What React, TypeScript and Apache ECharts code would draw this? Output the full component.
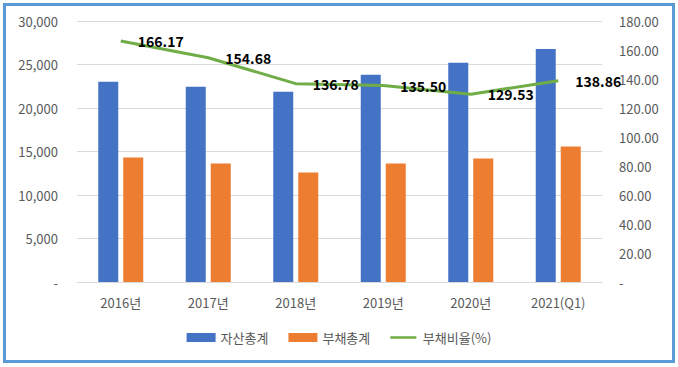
import React, { useEffect, useRef } from "react";
import * as echarts from "echarts";

const categories = ["2016년", "2017년", "2018년", "2019년", "2020년", "2021(Q1)"];
const totalAssets = [23020, 22440, 21870, 23820, 25190, 26790];
const totalLiabilities = [14310, 13630, 12600, 13630, 14200, 15570];
const debtRatio = [166.17, 154.68, 136.78, 135.5, 129.53, 138.86];

const FONT = "'Noto Sans CJK KR', 'Noto Sans', sans-serif";

export default function App() {
  const ref = useRef<HTMLDivElement>(null);
  useEffect(() => {
    document.body.style.margin = "0";
    const chart = echarts.init(ref.current!, undefined, { renderer: "svg" });
    chart.setOption({
      animation: false,
      backgroundColor: "#ffffff",
      textStyle: { fontFamily: FONT },
      graphic: [
        {
          type: "rect",
          shape: { x: 4.5, y: 4.5, width: 669, height: 357 },
          style: { fill: "none", stroke: "#5B9BD5", lineWidth: 3 },
          z: 100,
        },
      ],
      grid: { left: 77, right: 76, top: 21, bottom: 85 },
      legend: {
        bottom: 18,
        left: "center",
        itemWidth: 29,
        itemHeight: 9,
        itemGap: 20,
        textStyle: { color: "#595959", fontSize: 13, fontFamily: FONT },
        data: [
          { name: "자산총계", icon: "rect" },
          { name: "부채총계", icon: "rect" },
          {
            name: "부채비율(%)",
            icon: "path://M0,0 L0.01,0 L0.01,0.01 Z M0,3.5 L29,3.5 L29,6.5 L0,6.5 Z M0,10 L0.01,10 L0.01,10.01 Z",
            itemStyle: { color: "#70AD47" },
          },
        ],
      },
      xAxis: {
        type: "category",
        data: categories,
        axisLine: { lineStyle: { color: "#D9D9D9" } },
        axisTick: { show: false },
        axisLabel: { color: "#595959", fontSize: 13, margin: 14, fontFamily: FONT },
      },
      yAxis: [
        {
          type: "value",
          min: 0,
          max: 30000,
          interval: 5000,
          axisLine: { show: false },
          axisTick: { show: false },
          splitLine: { lineStyle: { color: "#D9D9D9" } },
          axisLabel: {
            color: "#595959",
            fontSize: 13,
            margin: 19,
            fontFamily: FONT,
            formatter: (v: number) => (v === 0 ? "-" : v.toLocaleString("en-US")),
          },
        },
        {
          type: "value",
          min: 0,
          max: 180,
          interval: 20,
          axisLine: { show: false },
          axisTick: { show: false },
          splitLine: { show: false },
          axisLabel: {
            color: "#595959",
            fontSize: 13,
            margin: 17,
            fontFamily: FONT,
            formatter: (v: number) => (v === 0 ? "-" : v.toFixed(2)),
          },
        },
      ],
      series: [
        {
          name: "자산총계",
          type: "bar",
          data: totalAssets,
          barWidth: 20,
          barGap: "25%",
          itemStyle: { color: "#4472C4" },
        },
        {
          name: "부채총계",
          type: "bar",
          data: totalLiabilities,
          barWidth: 20,
          itemStyle: { color: "#ED7D31" },
        },
        {
          name: "부채비율(%)",
          type: "line",
          yAxisIndex: 1,
          data: debtRatio,
          symbol: "circle",
          symbolSize: 0.1,
          showSymbol: true,
          lineStyle: { color: "#70AD47", width: 3 },
          itemStyle: { color: "#70AD47" },
          z: 5,
          label: {
            show: true,
            position: "right",
            distance: 17,
            color: "#000000",
            fontWeight: "bold",
            fontSize: 14,
            fontFamily: FONT,
            formatter: (p: any) => Number(p.value).toFixed(2),
          },
        },
      ],
    });
    return () => chart.dispose();
  }, []);
  return <div ref={ref} style={{ width: 678, height: 367 }} />;
}
